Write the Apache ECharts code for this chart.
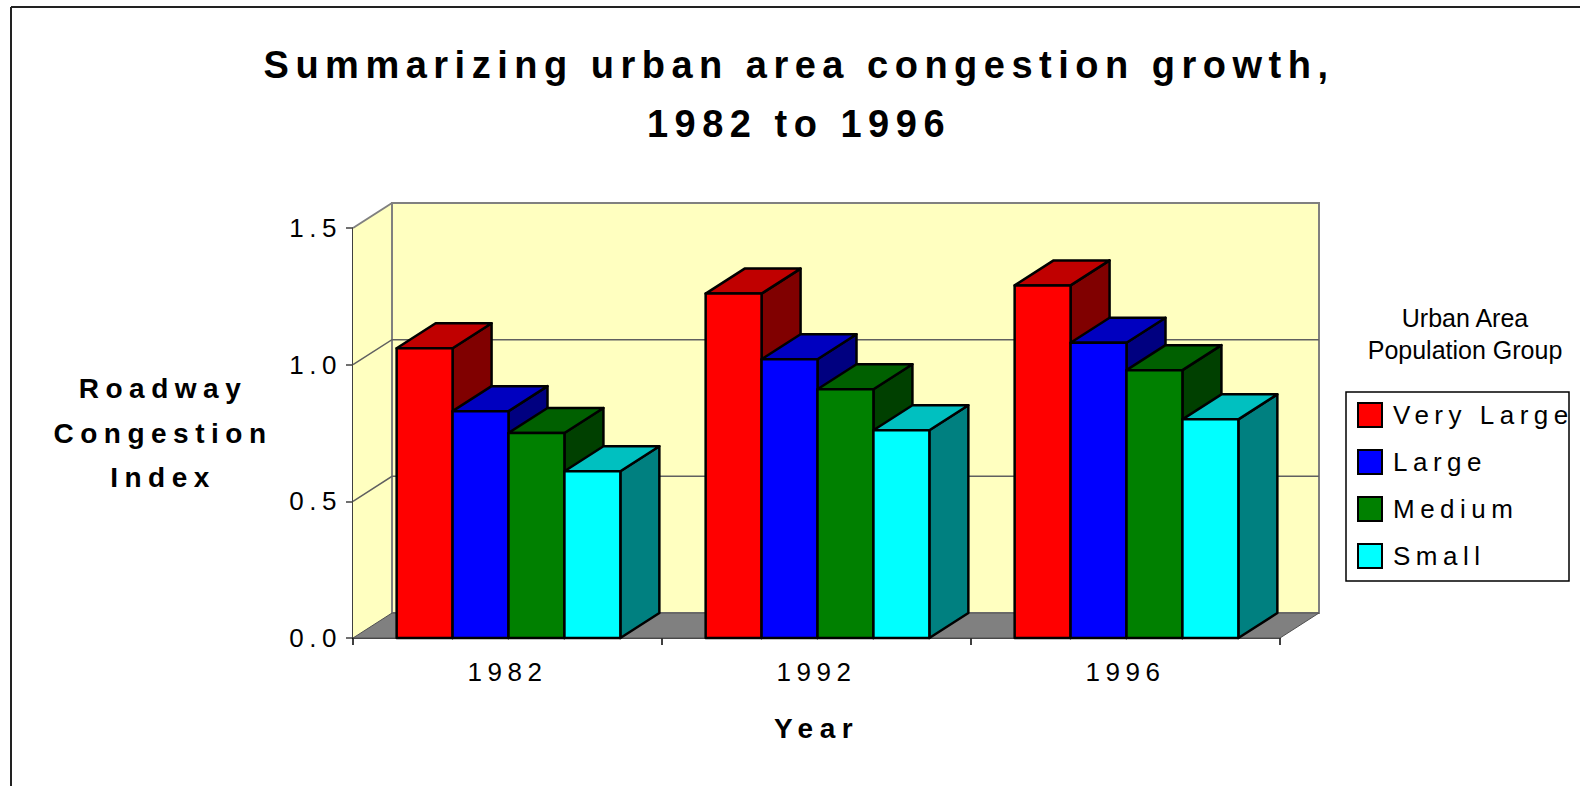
<!DOCTYPE html>
<html>
<head>
<meta charset="utf-8">
<script src="https://cdn.jsdelivr.net/npm/echarts@6/dist/echarts.min.js"></script>
<style>
  html, body { margin: 0; padding: 0; background: #fff; }
  #chart { width: 1580px; height: 786px; }
  /* Excel-like wide letter spacing */
  #chart text { letter-spacing: 5.5px; }
  #chart text[style*="38px"] { letter-spacing: 6.5px; }
  #chart text[style*="28px"] { letter-spacing: 6.5px; }
  #chart text[style*="25px"] { letter-spacing: 0; }
</style>
</head>
<body>
<div id="chart"></div>
<script>
const years = ['1982', '1992', '1996'];
const groups = ['Very Large', 'Large', 'Medium', 'Small'];
const veryLarge = [1.06, 1.26, 1.29];
const large = [0.83, 1.02, 1.08];
const medium = [0.75, 0.91, 0.98];
const small = [0.61, 0.76, 0.80];
const yTicks = [0, 0.5, 1.0, 1.5];

const frontColors = ['#ff0000', '#0000ff', '#008000', '#00ffff'];
const topColors = ['#c00000', '#0000c0', '#006000', '#00c0c0'];
const sideColors = ['#800000', '#000080', '#004000', '#008080'];
const WALL = '#ffffc0';
const FONT = 'Liberation Sans, Arial, sans-serif';

// depth offset of the fake 3D
const DX = 39, DY = -25;

const chart = echarts.init(document.getElementById('chart'), null, { renderer: 'svg' });

/**
 * 背景墙、地板、网格线
 */
function renderWalls(params, api) {
  const cs = params.coordSys;
  const x0 = cs.x, x1 = cs.x + cs.width;
  const yb = api.coord([0, yTicks[0]])[1];
  const yt = api.coord([0, yTicks[yTicks.length - 1]])[1];
  const children = [
    { type: 'polygon', shape: { points: [[x0, yb], [x0, yt], [x0 + DX, yt + DY], [x0 + DX, yb + DY]] },
      style: { fill: WALL } },
    { type: 'rect', shape: { x: x0 + DX, y: yt + DY, width: x1 - x0, height: yb - yt },
      style: { fill: WALL, stroke: '#808080', lineWidth: 2 } },
    { type: 'polygon', shape: { points: [[x0, yb], [x1, yb], [x1 + DX, yb + DY], [x0 + DX, yb + DY]] },
      style: { fill: '#808080', stroke: '#505050', lineWidth: 1 } },
    { type: 'line', shape: { x1: x0, y1: yt, x2: x0 + DX, y2: yt + DY },
      style: { stroke: '#808080', lineWidth: 2 } }
  ];
  yTicks.slice(1, -1).forEach(v => {
    const y = api.coord([0, v])[1];
    children.push({ type: 'polyline', shape: { points: [[x0, y], [x0 + DX, y + DY], [x1 + DX, y + DY]] },
      style: { stroke: '#606060', lineWidth: 1.5, fill: null } });
  });
  return { type: 'group', children };
}

/**
 * 3D 柱子
 */
function barRenderer(i) {
  return function (params, api) {
    const cat = api.value(0);
    const base = api.coord([cat, 0]);
    const top = api.coord([cat, api.value(1)]);
    const bw = api.size([1, 0])[0] * 0.181;
    const x = base[0] - 2 * bw + 1 + i * bw;
    const y0 = base[1], y1 = top[1];
    const line = { stroke: '#000', lineWidth: 2.5, lineJoin: 'round' };
    return {
      type: 'group',
      children: [
        { type: 'polygon', shape: { points: [[x + bw, y1], [x + bw + DX, y1 + DY], [x + bw + DX, y0 + DY], [x + bw, y0]] },
          style: Object.assign({ fill: sideColors[i] }, line) },
        { type: 'polygon', shape: { points: [[x, y1], [x + DX, y1 + DY], [x + bw + DX, y1 + DY], [x + bw, y1]] },
          style: Object.assign({ fill: topColors[i] }, line) },
        { type: 'rect', shape: { x: x, y: y1, width: bw, height: y0 - y1 },
          style: Object.assign({ fill: frontColors[i] }, line) }
      ]
    };
  };
}

const seriesValues = [veryLarge, large, medium, small];

const option = {
  animation: false,
  textStyle: { fontFamily: FONT },
  grid: { left: 353, right: 300, top: 228, bottom: 148, outerBoundsMode: 'none' },
  legend: {
    data: groups,
    orient: 'vertical',
    left: 1357,
    top: 402,
    padding: 0,
    icon: 'rect',
    itemWidth: 24,
    itemHeight: 24,
    itemGap: 21,
    selectedMode: false,
    itemStyle: { borderColor: '#000', borderWidth: 2 },
    textStyle: { fontSize: 26, color: '#000', lineHeight: 24, fontFamily: FONT, padding: [0, 0, 0, 6] }
  },
  xAxis: {
    type: 'category',
    data: years,
    boundaryGap: true,
    axisLine: { show: true, lineStyle: { color: '#000', width: 1.5 } },
    axisTick: { show: true, alignWithLabel: false, length: 7, lineStyle: { color: '#000', width: 1.5 } },
    axisLabel: { fontSize: 26, color: '#000', margin: 34, verticalAlign: 'middle', fontFamily: FONT },
    splitLine: { show: false },
    name: 'Year',
    nameLocation: 'middle',
    nameGap: 90,
    nameTextStyle: { fontSize: 28, fontWeight: 'bold', color: '#000', verticalAlign: 'middle', fontFamily: FONT }
  },
  yAxis: {
    type: 'value',
    min: yTicks[0],
    max: yTicks[yTicks.length - 1],
    interval: yTicks[1] - yTicks[0],
    axisLine: { show: true, lineStyle: { color: '#404040', width: 2 } },
    axisTick: { show: true, length: 7, lineStyle: { color: '#404040', width: 1.5 } },
    axisLabel: { fontSize: 26, color: '#000', margin: 11, fontFamily: FONT, formatter: v => v.toFixed(1) },
    splitLine: { show: false },
    name: 'Roadway\nCongestion\nIndex',
    nameLocation: 'middle',
    nameRotate: 0,
    nameGap: 190,
    nameTextStyle: { fontSize: 28, fontWeight: 'bold', color: '#000', align: 'center',
      verticalAlign: 'middle', lineHeight: 44.5, padding: [6, 0, 0, 0], fontFamily: FONT }
  },
  graphic: [
    { type: 'line', shape: { x1: 11, y1: 7, x2: 1580, y2: 7 }, style: { stroke: '#222', lineWidth: 2 } },
    { type: 'line', shape: { x1: 11, y1: 7, x2: 11, y2: 786 }, style: { stroke: '#222', lineWidth: 2 } },
    { type: 'text', x: 799, y: 65, style: { text: 'Summarizing urban area congestion growth,', fontSize: 38,
      fontWeight: 'bold', fontFamily: FONT, fill: '#000', textAlign: 'center', textVerticalAlign: 'middle' } },
    { type: 'text', x: 799, y: 124, style: { text: '1982 to 1996', fontSize: 38,
      fontWeight: 'bold', fontFamily: FONT, fill: '#000', textAlign: 'center', textVerticalAlign: 'middle' } },
    { type: 'text', x: 1465, y: 318, style: { text: 'Urban Area', fontSize: 25, fontFamily: FONT,
      fill: '#000', textAlign: 'center', textVerticalAlign: 'middle' } },
    { type: 'text', x: 1465, y: 350, style: { text: 'Population Group', fontSize: 25, fontFamily: FONT,
      fill: '#000', textAlign: 'center', textVerticalAlign: 'middle' } },
    { type: 'rect', shape: { x: 1346, y: 392, width: 223, height: 189 },
      style: { fill: null, stroke: '#000', lineWidth: 1.5 } }
  ],
  series: [
    {
      name: 'walls',
      type: 'custom',
      clip: false,
      silent: true,
      renderItem: renderWalls,
      data: [[0, 0]],
      z: 1
    }
  ].concat(groups.map((g, i) => ({
    name: g,
    type: 'custom',
    clip: false,
    renderItem: barRenderer(i),
    itemStyle: { color: frontColors[i] },
    encode: { x: 0, y: 1 },
    data: seriesValues[i].map((v, k) => [k, v]),
    z: 2 + i
  })))
};

chart.setOption(option);
</script>
</body>
</html>
